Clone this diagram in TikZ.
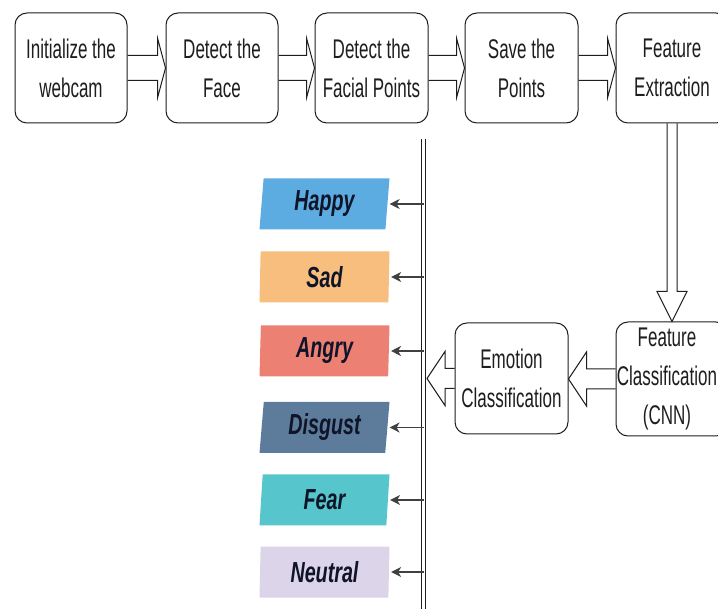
\documentclass[tikz,border=0pt]{standalone}
\usepackage{fontspec}
\setmainfont{Liberation Sans}[FakeStretch=0.63]
\newfontfamily\emofont{Liberation Sans}[FakeStretch=0.68]
\usetikzlibrary{calc,shapes.geometric,arrows.meta}
\definecolor{happyc}{RGB}{93,172,225}
\definecolor{sadc}{RGB}{247,190,125}
\definecolor{angryc}{RGB}{236,128,115}
\definecolor{disgustc}{RGB}{93,123,155}
\definecolor{fearc}{RGB}{86,197,204}
\definecolor{neutralc}{RGB}{220,212,232}
\definecolor{inkc}{RGB}{30,30,30}
\definecolor{emoink}{RGB}{15,20,40}
\newcommand\openR[2]{\draw[openarr] let \p1=(#1), \p2=(#2) in
  (\x1,\y1+12.5pt) -- (\x2-8pt,\y1+12.5pt) -- (\x2-8pt,\y1+30pt) -- (\x2,\y1)
  -- (\x2-8pt,\y1-30pt) -- (\x2-8pt,\y1-12.5pt) -- (\x1,\y1-12.5pt);}
\newcommand\openL[2]{\draw[openarr] let \p1=(#1), \p2=(#2) in
  (\x1,\y1+10pt) -- (\x2+18pt,\y1+10pt) -- (\x2+18pt,\y1+27pt) -- (\x2,\y1)
  -- (\x2+18pt,\y1-27pt) -- (\x2+18pt,\y1-10pt) -- (\x1,\y1-10pt);}
\begin{document}
\begin{tikzpicture}[x=1pt,y=-1pt,
  box/.style={draw=inkc, line width=1pt, rounded corners=12pt,
    minimum width=112pt, minimum height=110pt, align=center, inner sep=0pt,
    font=\fontsize{27}{39}\selectfont, text=inkc},
  openarr/.style={draw=inkc, line width=1pt, line join=miter},
  emo/.style={trapezium, trapezium stretches body, minimum width=130pt,
    minimum height=51pt, inner sep=0pt, text=emoink,
    font={\fontsize{29}{30}\emofont\bfseries\itshape}},
  slanted/.style={trapezium left angle=81, trapezium right angle=99},
  straight/.style={trapezium left angle=87, trapezium right angle=93},
  emoarr/.style={-{Stealth[length=10pt,width=10pt,inset=3pt]}, line width=1.3pt, draw=black!75, shorten >=2pt},
  vline/.style={draw=inkc, double=white, double distance=3.5pt, line width=0.9pt}
]
\useasboundingbox (0,0) rectangle (718,609);
\fill[white] (0,0) rectangle (718,609);

% top row
\node[box] (b1) at (71,68) {Initialize the\\webcam};
\node[box] (b2) at (222,68) {Detect the\\Face};
\node[box, minimum width=113pt] (b3) at (371.5,68) {Detect the\\Facial Points};
\node[box, minimum width=113pt] (b4) at (521.5,68) {Save the\\Points};
\node[box] (b5) at (672,68) {Feature\\Extraction};

% second row
\node[box, minimum height=114pt] (fc) at (672,379) {\hspace*{-10pt}Feature\\\hspace*{-10pt}Classification\\\hspace*{-10pt}(CNN)};
\node[box, minimum width=113pt, minimum height=111pt] (ec) at (511.5,378.5) {Emotion\\Classification};

% open arrows
\openR{b1.east}{b2.west}
\openR{b2.east}{b3.west}
\openR{b3.east}{b4.west}
\openR{b4.east}{b5.west}
\draw[openarr] let \p1=(b5.south), \p2=(fc.north) in
  (\x1-5pt,\y1) -- (\x1-5pt,\y2+30pt) -- (\x1-15pt,\y2+30pt) -- (\x1,\y2)
  -- (\x1+15pt,\y2+30pt) -- (\x1+5pt,\y2+30pt) -- (\x1+5pt,\y1);
\openL{fc.west}{ec.east}

% vertical distribution line
\coordinate (vtop) at (423.5,139);
\coordinate (vbot) at (423.5,615);
\draw[vline] (vtop) -- (vbot);
\coordinate (vr) at (427,378);
\openL{ec.west}{vr}

% emotions
\node[emo, slanted, fill=happyc] (happy) at (324.5,204) {Happy};
\node[emo, straight, fill=sadc] (sad) at (324.5,277) {Sad};
\node[emo, straight, fill=angryc] (angry) at (324.5,351) {Angry};
\node[emo, slanted, fill=disgustc] (disgust) at (324.5,427.5) {Disgust};
\node[emo, slanted, fill=fearc] (fear) at (324.5,500) {Fear};
\node[emo, straight, fill=neutralc] (neutral) at (324.5,572) {Neutral};

\foreach \e in {happy,sad,angry,disgust,fear,neutral}{
  \draw[emoarr] (\e.east -| vtop) -- (\e.east);
}
\end{tikzpicture}
\end{document}
